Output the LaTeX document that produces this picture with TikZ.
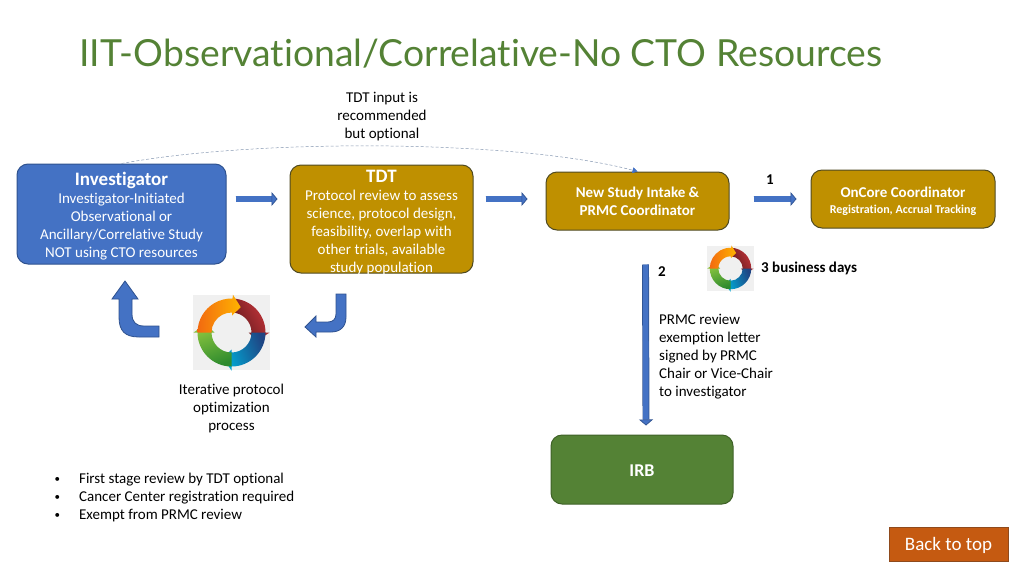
\documentclass[tikz,border=0pt]{standalone}
\usepackage{fontspec}
\setmainfont{Carlito}[RawFeature={-liga;-clig;-calt;-dlig}]
\newfontfamily\titlefont{Lato}[RawFeature={-liga;-clig;-calt;-dlig}]
\usetikzlibrary{arrows.meta}
\definecolor{invblue}{HTML}{4472C4}
\definecolor{invline}{HTML}{2F528F}
\definecolor{tdtgold}{HTML}{BF9000}
\definecolor{tdtline}{HTML}{4F4A22}
\definecolor{irbgreen}{HTML}{548235}
\definecolor{irbline}{HTML}{3F6128}
\definecolor{backorange}{HTML}{C55A11}
\definecolor{backline}{HTML}{8F4A1C}
\definecolor{curveline}{HTML}{8496B0}
\newcommand{\lift}[1]{\rule{0pt}{#1pt}}
\newcommand{\notedot}{\raisebox{1pt}{\fontsize{11}{18}\selectfont\textbullet}\hspace{19pt}}
\tikzset{
  roundbox/.style={draw=#1, line width=1pt, rounded corners=11pt, inner sep=0pt, align=center, text=white, font=\fontsize{15}{18}\selectfont},
  plaintext/.style={inner sep=0pt, align=center, font=\fontsize{15}{18}\selectfont},
  blockarrow/.style={draw=invline, double=invblue, double distance=5.5pt, line width=.7pt,
    -{Triangle[length=6pt, width=14pt, line width=.7pt, fill=invblue, color=invline]}},
  bentarrow/.style={fill=invblue, draw=invline, line width=.8pt, line join=miter},
  pics/ringicon/.style={code={
    \begin{scope}[yscale=-1]
      \fill[black!6] (-38.5,-37.5) rectangle (38.5,37.5);
      \foreach \a/\b/\c/\d/\s in {88/0/5E1A1E/C8353A/120, 0/-90/1F4483/00A9D6/-70,
          -90/-180/8CC63F/2E8B2E/20, 180/88/F26A10/FFB400/90} {
        \definecolor{ringa}{HTML}{\c}\definecolor{ringb}{HTML}{\d}
        \path[left color=ringa, right color=ringb, shading angle=\s] (\a:34) arc[start angle=\a, end angle=\b, radius=34]
          -- (\b:38) -- (\b-18:27) -- (\b:17) -- (\b:20) arc[start angle=\b, end angle=\a, radius=20] -- cycle;
      }
    \end{scope}
  }}
}
\begin{document}
\begin{tikzpicture}[x=1pt, y=-1pt]
  \useasboundingbox (0,0) rectangle (1024,576);
  \node[anchor=west, inner sep=0pt, text=irbgreen, font=\titlefont\fontsize{37.3}{40}\selectfont] (title) at (79,54) {IIT-Observational/Correlative-No CTO Resources};

  \node[roundbox=invline, fill=invblue, minimum width=209pt, minimum height=100pt] (inv) at (121.5,214)
    {\lift{18}{\fontsize{19}{20}\selectfont\bfseries Investigator}\\Investigator-Initiated\\Observational or\\Ancillary/Correlative Study\\NOT using CTO resources};
  \node[roundbox=tdtline, fill=tdtgold, minimum width=183pt, minimum height=108pt] (tdt) at (381.5,219) {};
  \node[plaintext, text=white] (tdttext) at (381.5,218.5)
    {\lift{20}{\fontsize{19}{20}\selectfont\bfseries TDT}\\Protocol review to assess\\science, protocol design,\\feasibility, overlap with\\other trials, available\\study population};
  \node[roundbox=tdtline, fill=tdtgold, minimum width=183pt, minimum height=58pt, font=\fontsize{15}{18}\selectfont\bfseries] (study) at (637.5,201)
    {\lift{12}New Study Intake \&\\PRMC Coordinator};
  \node[roundbox=tdtline, fill=tdtgold, minimum width=184pt, minimum height=58pt, font=\fontsize{15}{16}\selectfont\bfseries] (oncore) at (903,199)
    {\lift{15}OnCore Coordinator\\{\fontsize{12}{14}\selectfont Registration, Accrual Tracking}};
  \node[roundbox=irbline, fill=irbgreen, minimum width=182pt, minimum height=69pt, font=\fontsize{18}{18}\selectfont\bfseries] (irb) at (642,469.5) {\lift{13}IRB};
  \node[draw=backline, fill=backorange, text=white, line width=1pt, inner sep=0pt, minimum width=119pt, minimum height=34pt, font=\fontsize{19}{20}\selectfont] (back) at (948.5,544) {\lift{16}Back to top};

  \node[plaintext] (hint) at (382,117) {TDT input is\\recommended\\but optional};
  \node[plaintext] (loop) at (231.5,408) {Iterative protocol\\optimization\\process};
  \node[plaintext, align=left, anchor=north west] (exempt) at (659,314) {PRMC review\\exemption letter\\signed by PRMC\\Chair or Vice-Chair\\to investigator};
  \node[plaintext, font=\fontsize{15}{18}\selectfont\bfseries] (one) at (770,180) {1};
  \node[plaintext, font=\fontsize{15}{18}\selectfont\bfseries] (two) at (662,272) {2};
  \node[plaintext, anchor=west, font=\fontsize{15}{18}\selectfont\bfseries] (days) at (761,268.5) {3 business days};
  \node[plaintext, align=left, anchor=north west] (notes) at (54.5,473)
    {\notedot First stage review by TDT optional\\\notedot Cancer Center registration required\\\notedot Exempt from PRMC review};

  \pic at (231.5,332.5) {ringicon};
  \pic[scale=.61] at (730.5,268.5) {ringicon};

  \draw[curveline, densely dashed, line width=.5pt, -{Triangle[length=5pt, width=6pt, fill=invblue, color=invblue]}] (inv.north) .. controls (260,138) and (520,140) .. (study.north);
  \draw[blockarrow] ([shift={(9,-15)}]inv.east) -- ([shift={(-12,-20)}]tdt.west);
  \draw[blockarrow] ([shift={(12,-20)}]tdt.east) -- ([shift={(-18,-2)}]study.west);
  \draw[blockarrow] ([shift={(24,-2)}]study.east) -- ([shift={(-14,0)}]oncore.west);
  \draw[blockarrow] ([shift={(8,34)}]study.south) -- ([shift={(4,-9)}]irb.north);

  \draw[bentarrow] (159,326) -- (144,326) .. controls (136,326) and (132,322) .. (132,314) -- (132,299) -- (138,299) -- (125,281) -- (112,299) -- (119,299) -- (119,317)
    .. controls (119,331) and (125,337) .. (139,337) -- (159,337) -- cycle;
  \draw[bentarrow] (346,294) -- (346,317) .. controls (346,327) and (340,332) .. (331,332) -- (316,332) -- (316,337) -- (305,327) -- (316,316) -- (316,322) -- (328,322)
    .. controls (333,322) and (336,319) .. (336,314) -- (336,294) -- cycle;
\end{tikzpicture}
\end{document}
